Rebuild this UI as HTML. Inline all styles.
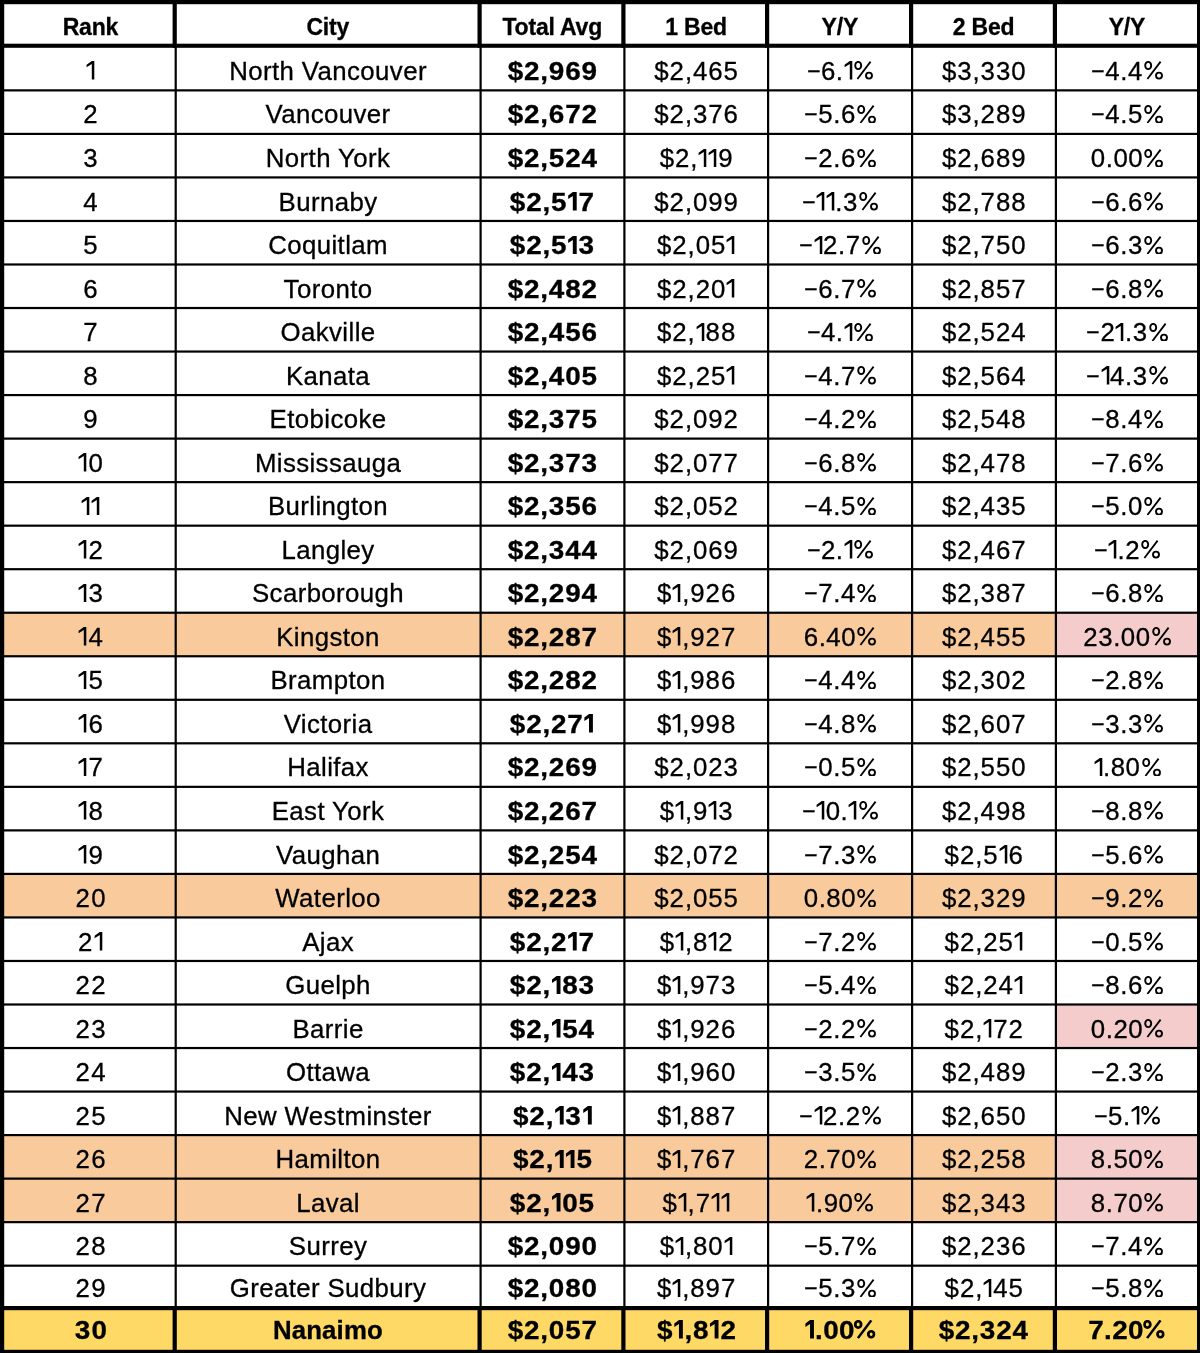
<!DOCTYPE html>
<html><head><meta charset="utf-8">
<style>
html,body{margin:0;padding:0;background:#fff;}
body{width:1200px;height:1353px;overflow:hidden;position:relative;filter:blur(0.35px);font-family:"Liberation Sans",sans-serif;}
svg{position:absolute;left:0;top:0;}
.t{position:absolute;width:300px;height:0;line-height:0;text-align:center;white-space:nowrap;color:#000;-webkit-text-stroke:0.3px #000;}
.n{font-weight:400;}
.b{font-weight:700;}
.sx{display:inline-block;transform-origin:50% 0;}
.m{display:inline-block;transform:scaleX(0.9);transform-origin:0 0;margin-right:-1.5px;}
.p{display:inline-block;transform:scaleX(0.87);transform-origin:0 0;margin-right:-2.9px;}
svg.o{position:static;vertical-align:baseline;margin-top:-30px;}
</style></head><body>
<svg width="1200" height="1353" viewBox="0 0 1200 1353" shape-rendering="geometricPrecision"><rect x="0" y="612.78" width="1200" height="43.33" fill="#f9cb9c"/><rect x="1056.00" y="612.78" width="144.00" height="43.33" fill="#f4cccc"/><rect x="0" y="873.96" width="1200" height="43.33" fill="#f9cb9c"/><rect x="1056.00" y="1004.55" width="144.00" height="43.33" fill="#f4cccc"/><rect x="0" y="1135.14" width="1200" height="43.33" fill="#f9cb9c"/><rect x="1056.00" y="1135.14" width="144.00" height="43.33" fill="#f4cccc"/><rect x="0" y="1178.67" width="1200" height="43.33" fill="#f9cb9c"/><rect x="1056.00" y="1178.67" width="144.00" height="43.33" fill="#f4cccc"/><rect x="0" y="1309.20" width="1200" height="41.60" fill="#ffd966"/></svg>
<div class="t b" style="left:-59.60px;top:26.93px;font-size:23px;letter-spacing:-0.2px">Rank</div><div class="t b" style="left:177.75px;top:26.93px;font-size:23px;letter-spacing:-0.2px">City</div><div class="t b" style="left:402.25px;top:26.93px;font-size:23px;letter-spacing:-0.2px">Total Avg</div><div class="t b" style="left:546.05px;top:26.93px;font-size:23px;letter-spacing:-0.2px">1 Bed</div><div class="t b" style="left:689.85px;top:26.93px;font-size:23px;letter-spacing:-0.2px">Y/Y</div><div class="t b" style="left:833.65px;top:26.93px;font-size:23px;letter-spacing:-0.2px">2 Bed</div><div class="t b" style="left:976.90px;top:26.93px;font-size:23px;letter-spacing:-0.2px">Y/Y</div><div class="t n" style="left:-58.72px;top:70.96px;font-size:25.8px;letter-spacing:1.55px"><svg class="o" width="9.5" height="18.5" viewBox="0 0 9.5 18" preserveAspectRatio="none" style="margin-right:1.00px"><path d="M5.8 0H8.3V18H5.8V2.9L0.6 6.1V3.7Z"/></svg></div><div class="t n" style="left:178.05px;top:70.96px;font-size:25.8px;letter-spacing:0.4px">North Vancouver</div><div class="t b" style="left:402.73px;top:70.96px;font-size:25.8px;letter-spacing:0.75px"><span class="sx" style="transform:scaleX(1.08)">$2,969</span></div><div class="t n" style="left:546.62px;top:70.96px;font-size:25.8px;letter-spacing:0.95px">$2,465</div><div class="t n" style="left:690.23px;top:70.96px;font-size:25.8px;letter-spacing:0.55px"><span class="m">−</span>6.<svg class="o" width="9.5" height="18.5" viewBox="0 0 9.5 18" preserveAspectRatio="none" style="margin-right:0.00px"><path d="M5.8 0H8.3V18H5.8V2.9L0.6 6.1V3.7Z"/></svg><svg class="o" width="20.5" height="18.5" viewBox="0 0 20.5 18.5" fill="none" stroke="#000"><ellipse cx="5.2" cy="4.5" rx="3.0" ry="3.6" stroke-width="1.9"/><ellipse cx="16" cy="14.6" rx="3.0" ry="3.0" stroke-width="1.9"/><path d="M17.6 0.6L4.4 18" stroke-width="1.8"/></svg></div><div class="t n" style="left:834.23px;top:70.96px;font-size:25.8px;letter-spacing:0.95px">$3,330</div><div class="t n" style="left:977.28px;top:70.96px;font-size:25.8px;letter-spacing:0.55px"><span class="m">−</span>4.4<svg class="o" width="20.5" height="18.5" viewBox="0 0 20.5 18.5" fill="none" stroke="#000"><ellipse cx="5.2" cy="4.5" rx="3.0" ry="3.6" stroke-width="1.9"/><ellipse cx="16" cy="14.6" rx="3.0" ry="3.0" stroke-width="1.9"/><path d="M17.6 0.6L4.4 18" stroke-width="1.8"/></svg></div><div class="t n" style="left:-58.72px;top:114.49px;font-size:25.8px;letter-spacing:1.55px">2</div><div class="t n" style="left:178.05px;top:114.49px;font-size:25.8px;letter-spacing:0.4px">Vancouver</div><div class="t b" style="left:402.73px;top:114.49px;font-size:25.8px;letter-spacing:0.75px"><span class="sx" style="transform:scaleX(1.08)">$2,672</span></div><div class="t n" style="left:546.62px;top:114.49px;font-size:25.8px;letter-spacing:0.95px">$2,376</div><div class="t n" style="left:690.23px;top:114.49px;font-size:25.8px;letter-spacing:0.55px"><span class="m">−</span>5.6<svg class="o" width="20.5" height="18.5" viewBox="0 0 20.5 18.5" fill="none" stroke="#000"><ellipse cx="5.2" cy="4.5" rx="3.0" ry="3.6" stroke-width="1.9"/><ellipse cx="16" cy="14.6" rx="3.0" ry="3.0" stroke-width="1.9"/><path d="M17.6 0.6L4.4 18" stroke-width="1.8"/></svg></div><div class="t n" style="left:834.23px;top:114.49px;font-size:25.8px;letter-spacing:0.95px">$3,289</div><div class="t n" style="left:977.28px;top:114.49px;font-size:25.8px;letter-spacing:0.55px"><span class="m">−</span>4.5<svg class="o" width="20.5" height="18.5" viewBox="0 0 20.5 18.5" fill="none" stroke="#000"><ellipse cx="5.2" cy="4.5" rx="3.0" ry="3.6" stroke-width="1.9"/><ellipse cx="16" cy="14.6" rx="3.0" ry="3.0" stroke-width="1.9"/><path d="M17.6 0.6L4.4 18" stroke-width="1.8"/></svg></div><div class="t n" style="left:-58.72px;top:158.02px;font-size:25.8px;letter-spacing:1.55px">3</div><div class="t n" style="left:178.05px;top:158.02px;font-size:25.8px;letter-spacing:0.4px">North York</div><div class="t b" style="left:402.73px;top:158.02px;font-size:25.8px;letter-spacing:0.75px"><span class="sx" style="transform:scaleX(1.08)">$2,524</span></div><div class="t n" style="left:546.62px;top:158.02px;font-size:25.8px;letter-spacing:0.95px">$2,<svg class="o" width="9.5" height="18.5" viewBox="0 0 9.5 18" preserveAspectRatio="none" style="margin-right:0.40px"><path d="M5.8 0H8.3V18H5.8V2.9L0.6 6.1V3.7Z"/></svg><svg class="o" width="9.5" height="18.5" viewBox="0 0 9.5 18" preserveAspectRatio="none" style="margin-right:0.40px"><path d="M5.8 0H8.3V18H5.8V2.9L0.6 6.1V3.7Z"/></svg>9</div><div class="t n" style="left:690.23px;top:158.02px;font-size:25.8px;letter-spacing:0.55px"><span class="m">−</span>2.6<svg class="o" width="20.5" height="18.5" viewBox="0 0 20.5 18.5" fill="none" stroke="#000"><ellipse cx="5.2" cy="4.5" rx="3.0" ry="3.6" stroke-width="1.9"/><ellipse cx="16" cy="14.6" rx="3.0" ry="3.0" stroke-width="1.9"/><path d="M17.6 0.6L4.4 18" stroke-width="1.8"/></svg></div><div class="t n" style="left:834.23px;top:158.02px;font-size:25.8px;letter-spacing:0.95px">$2,689</div><div class="t n" style="left:977.28px;top:158.02px;font-size:25.8px;letter-spacing:0.55px">0.00<svg class="o" width="20.5" height="18.5" viewBox="0 0 20.5 18.5" fill="none" stroke="#000"><ellipse cx="5.2" cy="4.5" rx="3.0" ry="3.6" stroke-width="1.9"/><ellipse cx="16" cy="14.6" rx="3.0" ry="3.0" stroke-width="1.9"/><path d="M17.6 0.6L4.4 18" stroke-width="1.8"/></svg></div><div class="t n" style="left:-58.72px;top:201.55px;font-size:25.8px;letter-spacing:1.55px">4</div><div class="t n" style="left:178.05px;top:201.55px;font-size:25.8px;letter-spacing:0.4px">Burnaby</div><div class="t b" style="left:402.73px;top:201.55px;font-size:25.8px;letter-spacing:0.75px"><span class="sx" style="transform:scaleX(1.08)">$2,5<svg class="o" width="10.9" height="18.5" viewBox="0 0 10.9 18" preserveAspectRatio="none" style="margin-right:-0.60px"><path d="M5.3 0H8.9V18H5.3V4L1.0 6.7V3.3Z"/></svg>7</span></div><div class="t n" style="left:546.62px;top:201.55px;font-size:25.8px;letter-spacing:0.95px">$2,099</div><div class="t n" style="left:690.23px;top:201.55px;font-size:25.8px;letter-spacing:0.55px"><span class="m">−</span><svg class="o" width="9.5" height="18.5" viewBox="0 0 9.5 18" preserveAspectRatio="none" style="margin-right:0.00px"><path d="M5.8 0H8.3V18H5.8V2.9L0.6 6.1V3.7Z"/></svg><svg class="o" width="9.5" height="18.5" viewBox="0 0 9.5 18" preserveAspectRatio="none" style="margin-right:0.00px"><path d="M5.8 0H8.3V18H5.8V2.9L0.6 6.1V3.7Z"/></svg>.3<svg class="o" width="20.5" height="18.5" viewBox="0 0 20.5 18.5" fill="none" stroke="#000"><ellipse cx="5.2" cy="4.5" rx="3.0" ry="3.6" stroke-width="1.9"/><ellipse cx="16" cy="14.6" rx="3.0" ry="3.0" stroke-width="1.9"/><path d="M17.6 0.6L4.4 18" stroke-width="1.8"/></svg></div><div class="t n" style="left:834.23px;top:201.55px;font-size:25.8px;letter-spacing:0.95px">$2,788</div><div class="t n" style="left:977.28px;top:201.55px;font-size:25.8px;letter-spacing:0.55px"><span class="m">−</span>6.6<svg class="o" width="20.5" height="18.5" viewBox="0 0 20.5 18.5" fill="none" stroke="#000"><ellipse cx="5.2" cy="4.5" rx="3.0" ry="3.6" stroke-width="1.9"/><ellipse cx="16" cy="14.6" rx="3.0" ry="3.0" stroke-width="1.9"/><path d="M17.6 0.6L4.4 18" stroke-width="1.8"/></svg></div><div class="t n" style="left:-58.72px;top:245.08px;font-size:25.8px;letter-spacing:1.55px">5</div><div class="t n" style="left:178.05px;top:245.08px;font-size:25.8px;letter-spacing:0.4px">Coquitlam</div><div class="t b" style="left:402.73px;top:245.08px;font-size:25.8px;letter-spacing:0.75px"><span class="sx" style="transform:scaleX(1.08)">$2,5<svg class="o" width="10.9" height="18.5" viewBox="0 0 10.9 18" preserveAspectRatio="none" style="margin-right:-0.60px"><path d="M5.3 0H8.9V18H5.3V4L1.0 6.7V3.3Z"/></svg>3</span></div><div class="t n" style="left:546.62px;top:245.08px;font-size:25.8px;letter-spacing:0.95px">$2,05<svg class="o" width="9.5" height="18.5" viewBox="0 0 9.5 18" preserveAspectRatio="none" style="margin-right:0.40px"><path d="M5.8 0H8.3V18H5.8V2.9L0.6 6.1V3.7Z"/></svg></div><div class="t n" style="left:690.23px;top:245.08px;font-size:25.8px;letter-spacing:0.55px"><span class="m">−</span><svg class="o" width="9.5" height="18.5" viewBox="0 0 9.5 18" preserveAspectRatio="none" style="margin-right:0.00px"><path d="M5.8 0H8.3V18H5.8V2.9L0.6 6.1V3.7Z"/></svg>2.7<svg class="o" width="20.5" height="18.5" viewBox="0 0 20.5 18.5" fill="none" stroke="#000"><ellipse cx="5.2" cy="4.5" rx="3.0" ry="3.6" stroke-width="1.9"/><ellipse cx="16" cy="14.6" rx="3.0" ry="3.0" stroke-width="1.9"/><path d="M17.6 0.6L4.4 18" stroke-width="1.8"/></svg></div><div class="t n" style="left:834.23px;top:245.08px;font-size:25.8px;letter-spacing:0.95px">$2,750</div><div class="t n" style="left:977.28px;top:245.08px;font-size:25.8px;letter-spacing:0.55px"><span class="m">−</span>6.3<svg class="o" width="20.5" height="18.5" viewBox="0 0 20.5 18.5" fill="none" stroke="#000"><ellipse cx="5.2" cy="4.5" rx="3.0" ry="3.6" stroke-width="1.9"/><ellipse cx="16" cy="14.6" rx="3.0" ry="3.0" stroke-width="1.9"/><path d="M17.6 0.6L4.4 18" stroke-width="1.8"/></svg></div><div class="t n" style="left:-58.72px;top:288.61px;font-size:25.8px;letter-spacing:1.55px">6</div><div class="t n" style="left:178.05px;top:288.61px;font-size:25.8px;letter-spacing:0.4px">Toronto</div><div class="t b" style="left:402.73px;top:288.61px;font-size:25.8px;letter-spacing:0.75px"><span class="sx" style="transform:scaleX(1.08)">$2,482</span></div><div class="t n" style="left:546.62px;top:288.61px;font-size:25.8px;letter-spacing:0.95px">$2,20<svg class="o" width="9.5" height="18.5" viewBox="0 0 9.5 18" preserveAspectRatio="none" style="margin-right:0.40px"><path d="M5.8 0H8.3V18H5.8V2.9L0.6 6.1V3.7Z"/></svg></div><div class="t n" style="left:690.23px;top:288.61px;font-size:25.8px;letter-spacing:0.55px"><span class="m">−</span>6.7<svg class="o" width="20.5" height="18.5" viewBox="0 0 20.5 18.5" fill="none" stroke="#000"><ellipse cx="5.2" cy="4.5" rx="3.0" ry="3.6" stroke-width="1.9"/><ellipse cx="16" cy="14.6" rx="3.0" ry="3.0" stroke-width="1.9"/><path d="M17.6 0.6L4.4 18" stroke-width="1.8"/></svg></div><div class="t n" style="left:834.23px;top:288.61px;font-size:25.8px;letter-spacing:0.95px">$2,857</div><div class="t n" style="left:977.28px;top:288.61px;font-size:25.8px;letter-spacing:0.55px"><span class="m">−</span>6.8<svg class="o" width="20.5" height="18.5" viewBox="0 0 20.5 18.5" fill="none" stroke="#000"><ellipse cx="5.2" cy="4.5" rx="3.0" ry="3.6" stroke-width="1.9"/><ellipse cx="16" cy="14.6" rx="3.0" ry="3.0" stroke-width="1.9"/><path d="M17.6 0.6L4.4 18" stroke-width="1.8"/></svg></div><div class="t n" style="left:-58.72px;top:332.14px;font-size:25.8px;letter-spacing:1.55px">7</div><div class="t n" style="left:178.05px;top:332.14px;font-size:25.8px;letter-spacing:0.4px">Oakville</div><div class="t b" style="left:402.73px;top:332.14px;font-size:25.8px;letter-spacing:0.75px"><span class="sx" style="transform:scaleX(1.08)">$2,456</span></div><div class="t n" style="left:546.62px;top:332.14px;font-size:25.8px;letter-spacing:0.95px">$2,<svg class="o" width="9.5" height="18.5" viewBox="0 0 9.5 18" preserveAspectRatio="none" style="margin-right:0.40px"><path d="M5.8 0H8.3V18H5.8V2.9L0.6 6.1V3.7Z"/></svg>88</div><div class="t n" style="left:690.23px;top:332.14px;font-size:25.8px;letter-spacing:0.55px"><span class="m">−</span>4.<svg class="o" width="9.5" height="18.5" viewBox="0 0 9.5 18" preserveAspectRatio="none" style="margin-right:0.00px"><path d="M5.8 0H8.3V18H5.8V2.9L0.6 6.1V3.7Z"/></svg><svg class="o" width="20.5" height="18.5" viewBox="0 0 20.5 18.5" fill="none" stroke="#000"><ellipse cx="5.2" cy="4.5" rx="3.0" ry="3.6" stroke-width="1.9"/><ellipse cx="16" cy="14.6" rx="3.0" ry="3.0" stroke-width="1.9"/><path d="M17.6 0.6L4.4 18" stroke-width="1.8"/></svg></div><div class="t n" style="left:834.23px;top:332.14px;font-size:25.8px;letter-spacing:0.95px">$2,524</div><div class="t n" style="left:977.28px;top:332.14px;font-size:25.8px;letter-spacing:0.55px"><span class="m">−</span>2<svg class="o" width="9.5" height="18.5" viewBox="0 0 9.5 18" preserveAspectRatio="none" style="margin-right:0.00px"><path d="M5.8 0H8.3V18H5.8V2.9L0.6 6.1V3.7Z"/></svg>.3<svg class="o" width="20.5" height="18.5" viewBox="0 0 20.5 18.5" fill="none" stroke="#000"><ellipse cx="5.2" cy="4.5" rx="3.0" ry="3.6" stroke-width="1.9"/><ellipse cx="16" cy="14.6" rx="3.0" ry="3.0" stroke-width="1.9"/><path d="M17.6 0.6L4.4 18" stroke-width="1.8"/></svg></div><div class="t n" style="left:-58.72px;top:375.67px;font-size:25.8px;letter-spacing:1.55px">8</div><div class="t n" style="left:178.05px;top:375.67px;font-size:25.8px;letter-spacing:0.4px">Kanata</div><div class="t b" style="left:402.73px;top:375.67px;font-size:25.8px;letter-spacing:0.75px"><span class="sx" style="transform:scaleX(1.08)">$2,405</span></div><div class="t n" style="left:546.62px;top:375.67px;font-size:25.8px;letter-spacing:0.95px">$2,25<svg class="o" width="9.5" height="18.5" viewBox="0 0 9.5 18" preserveAspectRatio="none" style="margin-right:0.40px"><path d="M5.8 0H8.3V18H5.8V2.9L0.6 6.1V3.7Z"/></svg></div><div class="t n" style="left:690.23px;top:375.67px;font-size:25.8px;letter-spacing:0.55px"><span class="m">−</span>4.7<svg class="o" width="20.5" height="18.5" viewBox="0 0 20.5 18.5" fill="none" stroke="#000"><ellipse cx="5.2" cy="4.5" rx="3.0" ry="3.6" stroke-width="1.9"/><ellipse cx="16" cy="14.6" rx="3.0" ry="3.0" stroke-width="1.9"/><path d="M17.6 0.6L4.4 18" stroke-width="1.8"/></svg></div><div class="t n" style="left:834.23px;top:375.67px;font-size:25.8px;letter-spacing:0.95px">$2,564</div><div class="t n" style="left:977.28px;top:375.67px;font-size:25.8px;letter-spacing:0.55px"><span class="m">−</span><svg class="o" width="9.5" height="18.5" viewBox="0 0 9.5 18" preserveAspectRatio="none" style="margin-right:0.00px"><path d="M5.8 0H8.3V18H5.8V2.9L0.6 6.1V3.7Z"/></svg>4.3<svg class="o" width="20.5" height="18.5" viewBox="0 0 20.5 18.5" fill="none" stroke="#000"><ellipse cx="5.2" cy="4.5" rx="3.0" ry="3.6" stroke-width="1.9"/><ellipse cx="16" cy="14.6" rx="3.0" ry="3.0" stroke-width="1.9"/><path d="M17.6 0.6L4.4 18" stroke-width="1.8"/></svg></div><div class="t n" style="left:-58.72px;top:419.20px;font-size:25.8px;letter-spacing:1.55px">9</div><div class="t n" style="left:178.05px;top:419.20px;font-size:25.8px;letter-spacing:0.4px">Etobicoke</div><div class="t b" style="left:402.73px;top:419.20px;font-size:25.8px;letter-spacing:0.75px"><span class="sx" style="transform:scaleX(1.08)">$2,375</span></div><div class="t n" style="left:546.62px;top:419.20px;font-size:25.8px;letter-spacing:0.95px">$2,092</div><div class="t n" style="left:690.23px;top:419.20px;font-size:25.8px;letter-spacing:0.55px"><span class="m">−</span>4.2<svg class="o" width="20.5" height="18.5" viewBox="0 0 20.5 18.5" fill="none" stroke="#000"><ellipse cx="5.2" cy="4.5" rx="3.0" ry="3.6" stroke-width="1.9"/><ellipse cx="16" cy="14.6" rx="3.0" ry="3.0" stroke-width="1.9"/><path d="M17.6 0.6L4.4 18" stroke-width="1.8"/></svg></div><div class="t n" style="left:834.23px;top:419.20px;font-size:25.8px;letter-spacing:0.95px">$2,548</div><div class="t n" style="left:977.28px;top:419.20px;font-size:25.8px;letter-spacing:0.55px"><span class="m">−</span>8.4<svg class="o" width="20.5" height="18.5" viewBox="0 0 20.5 18.5" fill="none" stroke="#000"><ellipse cx="5.2" cy="4.5" rx="3.0" ry="3.6" stroke-width="1.9"/><ellipse cx="16" cy="14.6" rx="3.0" ry="3.0" stroke-width="1.9"/><path d="M17.6 0.6L4.4 18" stroke-width="1.8"/></svg></div><div class="t n" style="left:-58.72px;top:462.73px;font-size:25.8px;letter-spacing:1.55px"><svg class="o" width="9.5" height="18.5" viewBox="0 0 9.5 18" preserveAspectRatio="none" style="margin-right:1.00px"><path d="M5.8 0H8.3V18H5.8V2.9L0.6 6.1V3.7Z"/></svg>0</div><div class="t n" style="left:178.05px;top:462.73px;font-size:25.8px;letter-spacing:0.4px">Mississauga</div><div class="t b" style="left:402.73px;top:462.73px;font-size:25.8px;letter-spacing:0.75px"><span class="sx" style="transform:scaleX(1.08)">$2,373</span></div><div class="t n" style="left:546.62px;top:462.73px;font-size:25.8px;letter-spacing:0.95px">$2,077</div><div class="t n" style="left:690.23px;top:462.73px;font-size:25.8px;letter-spacing:0.55px"><span class="m">−</span>6.8<svg class="o" width="20.5" height="18.5" viewBox="0 0 20.5 18.5" fill="none" stroke="#000"><ellipse cx="5.2" cy="4.5" rx="3.0" ry="3.6" stroke-width="1.9"/><ellipse cx="16" cy="14.6" rx="3.0" ry="3.0" stroke-width="1.9"/><path d="M17.6 0.6L4.4 18" stroke-width="1.8"/></svg></div><div class="t n" style="left:834.23px;top:462.73px;font-size:25.8px;letter-spacing:0.95px">$2,478</div><div class="t n" style="left:977.28px;top:462.73px;font-size:25.8px;letter-spacing:0.55px"><span class="m">−</span>7.6<svg class="o" width="20.5" height="18.5" viewBox="0 0 20.5 18.5" fill="none" stroke="#000"><ellipse cx="5.2" cy="4.5" rx="3.0" ry="3.6" stroke-width="1.9"/><ellipse cx="16" cy="14.6" rx="3.0" ry="3.0" stroke-width="1.9"/><path d="M17.6 0.6L4.4 18" stroke-width="1.8"/></svg></div><div class="t n" style="left:-58.72px;top:506.26px;font-size:25.8px;letter-spacing:1.55px"><svg class="o" width="9.5" height="18.5" viewBox="0 0 9.5 18" preserveAspectRatio="none" style="margin-right:1.00px"><path d="M5.8 0H8.3V18H5.8V2.9L0.6 6.1V3.7Z"/></svg><svg class="o" width="9.5" height="18.5" viewBox="0 0 9.5 18" preserveAspectRatio="none" style="margin-right:1.00px"><path d="M5.8 0H8.3V18H5.8V2.9L0.6 6.1V3.7Z"/></svg></div><div class="t n" style="left:178.05px;top:506.26px;font-size:25.8px;letter-spacing:0.4px">Burlington</div><div class="t b" style="left:402.73px;top:506.26px;font-size:25.8px;letter-spacing:0.75px"><span class="sx" style="transform:scaleX(1.08)">$2,356</span></div><div class="t n" style="left:546.62px;top:506.26px;font-size:25.8px;letter-spacing:0.95px">$2,052</div><div class="t n" style="left:690.23px;top:506.26px;font-size:25.8px;letter-spacing:0.55px"><span class="m">−</span>4.5<svg class="o" width="20.5" height="18.5" viewBox="0 0 20.5 18.5" fill="none" stroke="#000"><ellipse cx="5.2" cy="4.5" rx="3.0" ry="3.6" stroke-width="1.9"/><ellipse cx="16" cy="14.6" rx="3.0" ry="3.0" stroke-width="1.9"/><path d="M17.6 0.6L4.4 18" stroke-width="1.8"/></svg></div><div class="t n" style="left:834.23px;top:506.26px;font-size:25.8px;letter-spacing:0.95px">$2,435</div><div class="t n" style="left:977.28px;top:506.26px;font-size:25.8px;letter-spacing:0.55px"><span class="m">−</span>5.0<svg class="o" width="20.5" height="18.5" viewBox="0 0 20.5 18.5" fill="none" stroke="#000"><ellipse cx="5.2" cy="4.5" rx="3.0" ry="3.6" stroke-width="1.9"/><ellipse cx="16" cy="14.6" rx="3.0" ry="3.0" stroke-width="1.9"/><path d="M17.6 0.6L4.4 18" stroke-width="1.8"/></svg></div><div class="t n" style="left:-58.72px;top:549.79px;font-size:25.8px;letter-spacing:1.55px"><svg class="o" width="9.5" height="18.5" viewBox="0 0 9.5 18" preserveAspectRatio="none" style="margin-right:1.00px"><path d="M5.8 0H8.3V18H5.8V2.9L0.6 6.1V3.7Z"/></svg>2</div><div class="t n" style="left:178.05px;top:549.79px;font-size:25.8px;letter-spacing:0.4px">Langley</div><div class="t b" style="left:402.73px;top:549.79px;font-size:25.8px;letter-spacing:0.75px"><span class="sx" style="transform:scaleX(1.08)">$2,344</span></div><div class="t n" style="left:546.62px;top:549.79px;font-size:25.8px;letter-spacing:0.95px">$2,069</div><div class="t n" style="left:690.23px;top:549.79px;font-size:25.8px;letter-spacing:0.55px"><span class="m">−</span>2.<svg class="o" width="9.5" height="18.5" viewBox="0 0 9.5 18" preserveAspectRatio="none" style="margin-right:0.00px"><path d="M5.8 0H8.3V18H5.8V2.9L0.6 6.1V3.7Z"/></svg><svg class="o" width="20.5" height="18.5" viewBox="0 0 20.5 18.5" fill="none" stroke="#000"><ellipse cx="5.2" cy="4.5" rx="3.0" ry="3.6" stroke-width="1.9"/><ellipse cx="16" cy="14.6" rx="3.0" ry="3.0" stroke-width="1.9"/><path d="M17.6 0.6L4.4 18" stroke-width="1.8"/></svg></div><div class="t n" style="left:834.23px;top:549.79px;font-size:25.8px;letter-spacing:0.95px">$2,467</div><div class="t n" style="left:977.28px;top:549.79px;font-size:25.8px;letter-spacing:0.55px"><span class="m">−</span><svg class="o" width="9.5" height="18.5" viewBox="0 0 9.5 18" preserveAspectRatio="none" style="margin-right:0.00px"><path d="M5.8 0H8.3V18H5.8V2.9L0.6 6.1V3.7Z"/></svg>.2<svg class="o" width="20.5" height="18.5" viewBox="0 0 20.5 18.5" fill="none" stroke="#000"><ellipse cx="5.2" cy="4.5" rx="3.0" ry="3.6" stroke-width="1.9"/><ellipse cx="16" cy="14.6" rx="3.0" ry="3.0" stroke-width="1.9"/><path d="M17.6 0.6L4.4 18" stroke-width="1.8"/></svg></div><div class="t n" style="left:-58.72px;top:593.32px;font-size:25.8px;letter-spacing:1.55px"><svg class="o" width="9.5" height="18.5" viewBox="0 0 9.5 18" preserveAspectRatio="none" style="margin-right:1.00px"><path d="M5.8 0H8.3V18H5.8V2.9L0.6 6.1V3.7Z"/></svg>3</div><div class="t n" style="left:178.05px;top:593.32px;font-size:25.8px;letter-spacing:0.4px">Scarborough</div><div class="t b" style="left:402.73px;top:593.32px;font-size:25.8px;letter-spacing:0.75px"><span class="sx" style="transform:scaleX(1.08)">$2,294</span></div><div class="t n" style="left:546.62px;top:593.32px;font-size:25.8px;letter-spacing:0.95px">$<svg class="o" width="9.5" height="18.5" viewBox="0 0 9.5 18" preserveAspectRatio="none" style="margin-right:0.40px"><path d="M5.8 0H8.3V18H5.8V2.9L0.6 6.1V3.7Z"/></svg>,926</div><div class="t n" style="left:690.23px;top:593.32px;font-size:25.8px;letter-spacing:0.55px"><span class="m">−</span>7.4<svg class="o" width="20.5" height="18.5" viewBox="0 0 20.5 18.5" fill="none" stroke="#000"><ellipse cx="5.2" cy="4.5" rx="3.0" ry="3.6" stroke-width="1.9"/><ellipse cx="16" cy="14.6" rx="3.0" ry="3.0" stroke-width="1.9"/><path d="M17.6 0.6L4.4 18" stroke-width="1.8"/></svg></div><div class="t n" style="left:834.23px;top:593.32px;font-size:25.8px;letter-spacing:0.95px">$2,387</div><div class="t n" style="left:977.28px;top:593.32px;font-size:25.8px;letter-spacing:0.55px"><span class="m">−</span>6.8<svg class="o" width="20.5" height="18.5" viewBox="0 0 20.5 18.5" fill="none" stroke="#000"><ellipse cx="5.2" cy="4.5" rx="3.0" ry="3.6" stroke-width="1.9"/><ellipse cx="16" cy="14.6" rx="3.0" ry="3.0" stroke-width="1.9"/><path d="M17.6 0.6L4.4 18" stroke-width="1.8"/></svg></div><div class="t n" style="left:-58.72px;top:636.85px;font-size:25.8px;letter-spacing:1.55px"><svg class="o" width="9.5" height="18.5" viewBox="0 0 9.5 18" preserveAspectRatio="none" style="margin-right:1.00px"><path d="M5.8 0H8.3V18H5.8V2.9L0.6 6.1V3.7Z"/></svg>4</div><div class="t n" style="left:178.05px;top:636.85px;font-size:25.8px;letter-spacing:0.4px">Kingston</div><div class="t b" style="left:402.73px;top:636.85px;font-size:25.8px;letter-spacing:0.75px"><span class="sx" style="transform:scaleX(1.08)">$2,287</span></div><div class="t n" style="left:546.62px;top:636.85px;font-size:25.8px;letter-spacing:0.95px">$<svg class="o" width="9.5" height="18.5" viewBox="0 0 9.5 18" preserveAspectRatio="none" style="margin-right:0.40px"><path d="M5.8 0H8.3V18H5.8V2.9L0.6 6.1V3.7Z"/></svg>,927</div><div class="t n" style="left:690.23px;top:636.85px;font-size:25.8px;letter-spacing:0.55px">6.40<svg class="o" width="20.5" height="18.5" viewBox="0 0 20.5 18.5" fill="none" stroke="#000"><ellipse cx="5.2" cy="4.5" rx="3.0" ry="3.6" stroke-width="1.9"/><ellipse cx="16" cy="14.6" rx="3.0" ry="3.0" stroke-width="1.9"/><path d="M17.6 0.6L4.4 18" stroke-width="1.8"/></svg></div><div class="t n" style="left:834.23px;top:636.85px;font-size:25.8px;letter-spacing:0.95px">$2,455</div><div class="t n" style="left:977.28px;top:636.85px;font-size:25.8px;letter-spacing:0.55px">23.00<svg class="o" width="20.5" height="18.5" viewBox="0 0 20.5 18.5" fill="none" stroke="#000"><ellipse cx="5.2" cy="4.5" rx="3.0" ry="3.6" stroke-width="1.9"/><ellipse cx="16" cy="14.6" rx="3.0" ry="3.0" stroke-width="1.9"/><path d="M17.6 0.6L4.4 18" stroke-width="1.8"/></svg></div><div class="t n" style="left:-58.72px;top:680.38px;font-size:25.8px;letter-spacing:1.55px"><svg class="o" width="9.5" height="18.5" viewBox="0 0 9.5 18" preserveAspectRatio="none" style="margin-right:1.00px"><path d="M5.8 0H8.3V18H5.8V2.9L0.6 6.1V3.7Z"/></svg>5</div><div class="t n" style="left:178.05px;top:680.38px;font-size:25.8px;letter-spacing:0.4px">Brampton</div><div class="t b" style="left:402.73px;top:680.38px;font-size:25.8px;letter-spacing:0.75px"><span class="sx" style="transform:scaleX(1.08)">$2,282</span></div><div class="t n" style="left:546.62px;top:680.38px;font-size:25.8px;letter-spacing:0.95px">$<svg class="o" width="9.5" height="18.5" viewBox="0 0 9.5 18" preserveAspectRatio="none" style="margin-right:0.40px"><path d="M5.8 0H8.3V18H5.8V2.9L0.6 6.1V3.7Z"/></svg>,986</div><div class="t n" style="left:690.23px;top:680.38px;font-size:25.8px;letter-spacing:0.55px"><span class="m">−</span>4.4<svg class="o" width="20.5" height="18.5" viewBox="0 0 20.5 18.5" fill="none" stroke="#000"><ellipse cx="5.2" cy="4.5" rx="3.0" ry="3.6" stroke-width="1.9"/><ellipse cx="16" cy="14.6" rx="3.0" ry="3.0" stroke-width="1.9"/><path d="M17.6 0.6L4.4 18" stroke-width="1.8"/></svg></div><div class="t n" style="left:834.23px;top:680.38px;font-size:25.8px;letter-spacing:0.95px">$2,302</div><div class="t n" style="left:977.28px;top:680.38px;font-size:25.8px;letter-spacing:0.55px"><span class="m">−</span>2.8<svg class="o" width="20.5" height="18.5" viewBox="0 0 20.5 18.5" fill="none" stroke="#000"><ellipse cx="5.2" cy="4.5" rx="3.0" ry="3.6" stroke-width="1.9"/><ellipse cx="16" cy="14.6" rx="3.0" ry="3.0" stroke-width="1.9"/><path d="M17.6 0.6L4.4 18" stroke-width="1.8"/></svg></div><div class="t n" style="left:-58.72px;top:723.91px;font-size:25.8px;letter-spacing:1.55px"><svg class="o" width="9.5" height="18.5" viewBox="0 0 9.5 18" preserveAspectRatio="none" style="margin-right:1.00px"><path d="M5.8 0H8.3V18H5.8V2.9L0.6 6.1V3.7Z"/></svg>6</div><div class="t n" style="left:178.05px;top:723.91px;font-size:25.8px;letter-spacing:0.4px">Victoria</div><div class="t b" style="left:402.73px;top:723.91px;font-size:25.8px;letter-spacing:0.75px"><span class="sx" style="transform:scaleX(1.08)">$2,27<svg class="o" width="10.9" height="18.5" viewBox="0 0 10.9 18" preserveAspectRatio="none" style="margin-right:-0.60px"><path d="M5.3 0H8.9V18H5.3V4L1.0 6.7V3.3Z"/></svg></span></div><div class="t n" style="left:546.62px;top:723.91px;font-size:25.8px;letter-spacing:0.95px">$<svg class="o" width="9.5" height="18.5" viewBox="0 0 9.5 18" preserveAspectRatio="none" style="margin-right:0.40px"><path d="M5.8 0H8.3V18H5.8V2.9L0.6 6.1V3.7Z"/></svg>,998</div><div class="t n" style="left:690.23px;top:723.91px;font-size:25.8px;letter-spacing:0.55px"><span class="m">−</span>4.8<svg class="o" width="20.5" height="18.5" viewBox="0 0 20.5 18.5" fill="none" stroke="#000"><ellipse cx="5.2" cy="4.5" rx="3.0" ry="3.6" stroke-width="1.9"/><ellipse cx="16" cy="14.6" rx="3.0" ry="3.0" stroke-width="1.9"/><path d="M17.6 0.6L4.4 18" stroke-width="1.8"/></svg></div><div class="t n" style="left:834.23px;top:723.91px;font-size:25.8px;letter-spacing:0.95px">$2,607</div><div class="t n" style="left:977.28px;top:723.91px;font-size:25.8px;letter-spacing:0.55px"><span class="m">−</span>3.3<svg class="o" width="20.5" height="18.5" viewBox="0 0 20.5 18.5" fill="none" stroke="#000"><ellipse cx="5.2" cy="4.5" rx="3.0" ry="3.6" stroke-width="1.9"/><ellipse cx="16" cy="14.6" rx="3.0" ry="3.0" stroke-width="1.9"/><path d="M17.6 0.6L4.4 18" stroke-width="1.8"/></svg></div><div class="t n" style="left:-58.72px;top:767.44px;font-size:25.8px;letter-spacing:1.55px"><svg class="o" width="9.5" height="18.5" viewBox="0 0 9.5 18" preserveAspectRatio="none" style="margin-right:1.00px"><path d="M5.8 0H8.3V18H5.8V2.9L0.6 6.1V3.7Z"/></svg>7</div><div class="t n" style="left:178.05px;top:767.44px;font-size:25.8px;letter-spacing:0.4px">Halifax</div><div class="t b" style="left:402.73px;top:767.44px;font-size:25.8px;letter-spacing:0.75px"><span class="sx" style="transform:scaleX(1.08)">$2,269</span></div><div class="t n" style="left:546.62px;top:767.44px;font-size:25.8px;letter-spacing:0.95px">$2,023</div><div class="t n" style="left:690.23px;top:767.44px;font-size:25.8px;letter-spacing:0.55px"><span class="m">−</span>0.5<svg class="o" width="20.5" height="18.5" viewBox="0 0 20.5 18.5" fill="none" stroke="#000"><ellipse cx="5.2" cy="4.5" rx="3.0" ry="3.6" stroke-width="1.9"/><ellipse cx="16" cy="14.6" rx="3.0" ry="3.0" stroke-width="1.9"/><path d="M17.6 0.6L4.4 18" stroke-width="1.8"/></svg></div><div class="t n" style="left:834.23px;top:767.44px;font-size:25.8px;letter-spacing:0.95px">$2,550</div><div class="t n" style="left:977.28px;top:767.44px;font-size:25.8px;letter-spacing:0.55px"><svg class="o" width="9.5" height="18.5" viewBox="0 0 9.5 18" preserveAspectRatio="none" style="margin-right:0.00px"><path d="M5.8 0H8.3V18H5.8V2.9L0.6 6.1V3.7Z"/></svg>.80<svg class="o" width="20.5" height="18.5" viewBox="0 0 20.5 18.5" fill="none" stroke="#000"><ellipse cx="5.2" cy="4.5" rx="3.0" ry="3.6" stroke-width="1.9"/><ellipse cx="16" cy="14.6" rx="3.0" ry="3.0" stroke-width="1.9"/><path d="M17.6 0.6L4.4 18" stroke-width="1.8"/></svg></div><div class="t n" style="left:-58.72px;top:810.97px;font-size:25.8px;letter-spacing:1.55px"><svg class="o" width="9.5" height="18.5" viewBox="0 0 9.5 18" preserveAspectRatio="none" style="margin-right:1.00px"><path d="M5.8 0H8.3V18H5.8V2.9L0.6 6.1V3.7Z"/></svg>8</div><div class="t n" style="left:178.05px;top:810.97px;font-size:25.8px;letter-spacing:0.4px">East York</div><div class="t b" style="left:402.73px;top:810.97px;font-size:25.8px;letter-spacing:0.75px"><span class="sx" style="transform:scaleX(1.08)">$2,267</span></div><div class="t n" style="left:546.62px;top:810.97px;font-size:25.8px;letter-spacing:0.95px">$<svg class="o" width="9.5" height="18.5" viewBox="0 0 9.5 18" preserveAspectRatio="none" style="margin-right:0.40px"><path d="M5.8 0H8.3V18H5.8V2.9L0.6 6.1V3.7Z"/></svg>,9<svg class="o" width="9.5" height="18.5" viewBox="0 0 9.5 18" preserveAspectRatio="none" style="margin-right:0.40px"><path d="M5.8 0H8.3V18H5.8V2.9L0.6 6.1V3.7Z"/></svg>3</div><div class="t n" style="left:690.23px;top:810.97px;font-size:25.8px;letter-spacing:0.55px"><span class="m">−</span><svg class="o" width="9.5" height="18.5" viewBox="0 0 9.5 18" preserveAspectRatio="none" style="margin-right:0.00px"><path d="M5.8 0H8.3V18H5.8V2.9L0.6 6.1V3.7Z"/></svg>0.<svg class="o" width="9.5" height="18.5" viewBox="0 0 9.5 18" preserveAspectRatio="none" style="margin-right:0.00px"><path d="M5.8 0H8.3V18H5.8V2.9L0.6 6.1V3.7Z"/></svg><svg class="o" width="20.5" height="18.5" viewBox="0 0 20.5 18.5" fill="none" stroke="#000"><ellipse cx="5.2" cy="4.5" rx="3.0" ry="3.6" stroke-width="1.9"/><ellipse cx="16" cy="14.6" rx="3.0" ry="3.0" stroke-width="1.9"/><path d="M17.6 0.6L4.4 18" stroke-width="1.8"/></svg></div><div class="t n" style="left:834.23px;top:810.97px;font-size:25.8px;letter-spacing:0.95px">$2,498</div><div class="t n" style="left:977.28px;top:810.97px;font-size:25.8px;letter-spacing:0.55px"><span class="m">−</span>8.8<svg class="o" width="20.5" height="18.5" viewBox="0 0 20.5 18.5" fill="none" stroke="#000"><ellipse cx="5.2" cy="4.5" rx="3.0" ry="3.6" stroke-width="1.9"/><ellipse cx="16" cy="14.6" rx="3.0" ry="3.0" stroke-width="1.9"/><path d="M17.6 0.6L4.4 18" stroke-width="1.8"/></svg></div><div class="t n" style="left:-58.72px;top:854.50px;font-size:25.8px;letter-spacing:1.55px"><svg class="o" width="9.5" height="18.5" viewBox="0 0 9.5 18" preserveAspectRatio="none" style="margin-right:1.00px"><path d="M5.8 0H8.3V18H5.8V2.9L0.6 6.1V3.7Z"/></svg>9</div><div class="t n" style="left:178.05px;top:854.50px;font-size:25.8px;letter-spacing:0.4px">Vaughan</div><div class="t b" style="left:402.73px;top:854.50px;font-size:25.8px;letter-spacing:0.75px"><span class="sx" style="transform:scaleX(1.08)">$2,254</span></div><div class="t n" style="left:546.62px;top:854.50px;font-size:25.8px;letter-spacing:0.95px">$2,072</div><div class="t n" style="left:690.23px;top:854.50px;font-size:25.8px;letter-spacing:0.55px"><span class="m">−</span>7.3<svg class="o" width="20.5" height="18.5" viewBox="0 0 20.5 18.5" fill="none" stroke="#000"><ellipse cx="5.2" cy="4.5" rx="3.0" ry="3.6" stroke-width="1.9"/><ellipse cx="16" cy="14.6" rx="3.0" ry="3.0" stroke-width="1.9"/><path d="M17.6 0.6L4.4 18" stroke-width="1.8"/></svg></div><div class="t n" style="left:834.23px;top:854.50px;font-size:25.8px;letter-spacing:0.95px">$2,5<svg class="o" width="9.5" height="18.5" viewBox="0 0 9.5 18" preserveAspectRatio="none" style="margin-right:0.40px"><path d="M5.8 0H8.3V18H5.8V2.9L0.6 6.1V3.7Z"/></svg>6</div><div class="t n" style="left:977.28px;top:854.50px;font-size:25.8px;letter-spacing:0.55px"><span class="m">−</span>5.6<svg class="o" width="20.5" height="18.5" viewBox="0 0 20.5 18.5" fill="none" stroke="#000"><ellipse cx="5.2" cy="4.5" rx="3.0" ry="3.6" stroke-width="1.9"/><ellipse cx="16" cy="14.6" rx="3.0" ry="3.0" stroke-width="1.9"/><path d="M17.6 0.6L4.4 18" stroke-width="1.8"/></svg></div><div class="t n" style="left:-58.72px;top:898.03px;font-size:25.8px;letter-spacing:1.55px">20</div><div class="t n" style="left:178.05px;top:898.03px;font-size:25.8px;letter-spacing:0.4px">Waterloo</div><div class="t b" style="left:402.73px;top:898.03px;font-size:25.8px;letter-spacing:0.75px"><span class="sx" style="transform:scaleX(1.08)">$2,223</span></div><div class="t n" style="left:546.62px;top:898.03px;font-size:25.8px;letter-spacing:0.95px">$2,055</div><div class="t n" style="left:690.23px;top:898.03px;font-size:25.8px;letter-spacing:0.55px">0.80<svg class="o" width="20.5" height="18.5" viewBox="0 0 20.5 18.5" fill="none" stroke="#000"><ellipse cx="5.2" cy="4.5" rx="3.0" ry="3.6" stroke-width="1.9"/><ellipse cx="16" cy="14.6" rx="3.0" ry="3.0" stroke-width="1.9"/><path d="M17.6 0.6L4.4 18" stroke-width="1.8"/></svg></div><div class="t n" style="left:834.23px;top:898.03px;font-size:25.8px;letter-spacing:0.95px">$2,329</div><div class="t n" style="left:977.28px;top:898.03px;font-size:25.8px;letter-spacing:0.55px"><span class="m">−</span>9.2<svg class="o" width="20.5" height="18.5" viewBox="0 0 20.5 18.5" fill="none" stroke="#000"><ellipse cx="5.2" cy="4.5" rx="3.0" ry="3.6" stroke-width="1.9"/><ellipse cx="16" cy="14.6" rx="3.0" ry="3.0" stroke-width="1.9"/><path d="M17.6 0.6L4.4 18" stroke-width="1.8"/></svg></div><div class="t n" style="left:-58.72px;top:941.56px;font-size:25.8px;letter-spacing:1.55px">2<svg class="o" width="9.5" height="18.5" viewBox="0 0 9.5 18" preserveAspectRatio="none" style="margin-right:1.00px"><path d="M5.8 0H8.3V18H5.8V2.9L0.6 6.1V3.7Z"/></svg></div><div class="t n" style="left:178.05px;top:941.56px;font-size:25.8px;letter-spacing:0.4px">Ajax</div><div class="t b" style="left:402.73px;top:941.56px;font-size:25.8px;letter-spacing:0.75px"><span class="sx" style="transform:scaleX(1.08)">$2,2<svg class="o" width="10.9" height="18.5" viewBox="0 0 10.9 18" preserveAspectRatio="none" style="margin-right:-0.60px"><path d="M5.3 0H8.9V18H5.3V4L1.0 6.7V3.3Z"/></svg>7</span></div><div class="t n" style="left:546.62px;top:941.56px;font-size:25.8px;letter-spacing:0.95px">$<svg class="o" width="9.5" height="18.5" viewBox="0 0 9.5 18" preserveAspectRatio="none" style="margin-right:0.40px"><path d="M5.8 0H8.3V18H5.8V2.9L0.6 6.1V3.7Z"/></svg>,8<svg class="o" width="9.5" height="18.5" viewBox="0 0 9.5 18" preserveAspectRatio="none" style="margin-right:0.40px"><path d="M5.8 0H8.3V18H5.8V2.9L0.6 6.1V3.7Z"/></svg>2</div><div class="t n" style="left:690.23px;top:941.56px;font-size:25.8px;letter-spacing:0.55px"><span class="m">−</span>7.2<svg class="o" width="20.5" height="18.5" viewBox="0 0 20.5 18.5" fill="none" stroke="#000"><ellipse cx="5.2" cy="4.5" rx="3.0" ry="3.6" stroke-width="1.9"/><ellipse cx="16" cy="14.6" rx="3.0" ry="3.0" stroke-width="1.9"/><path d="M17.6 0.6L4.4 18" stroke-width="1.8"/></svg></div><div class="t n" style="left:834.23px;top:941.56px;font-size:25.8px;letter-spacing:0.95px">$2,25<svg class="o" width="9.5" height="18.5" viewBox="0 0 9.5 18" preserveAspectRatio="none" style="margin-right:0.40px"><path d="M5.8 0H8.3V18H5.8V2.9L0.6 6.1V3.7Z"/></svg></div><div class="t n" style="left:977.28px;top:941.56px;font-size:25.8px;letter-spacing:0.55px"><span class="m">−</span>0.5<svg class="o" width="20.5" height="18.5" viewBox="0 0 20.5 18.5" fill="none" stroke="#000"><ellipse cx="5.2" cy="4.5" rx="3.0" ry="3.6" stroke-width="1.9"/><ellipse cx="16" cy="14.6" rx="3.0" ry="3.0" stroke-width="1.9"/><path d="M17.6 0.6L4.4 18" stroke-width="1.8"/></svg></div><div class="t n" style="left:-58.72px;top:985.09px;font-size:25.8px;letter-spacing:1.55px">22</div><div class="t n" style="left:178.05px;top:985.09px;font-size:25.8px;letter-spacing:0.4px">Guelph</div><div class="t b" style="left:402.73px;top:985.09px;font-size:25.8px;letter-spacing:0.75px"><span class="sx" style="transform:scaleX(1.08)">$2,<svg class="o" width="10.9" height="18.5" viewBox="0 0 10.9 18" preserveAspectRatio="none" style="margin-right:-0.60px"><path d="M5.3 0H8.9V18H5.3V4L1.0 6.7V3.3Z"/></svg>83</span></div><div class="t n" style="left:546.62px;top:985.09px;font-size:25.8px;letter-spacing:0.95px">$<svg class="o" width="9.5" height="18.5" viewBox="0 0 9.5 18" preserveAspectRatio="none" style="margin-right:0.40px"><path d="M5.8 0H8.3V18H5.8V2.9L0.6 6.1V3.7Z"/></svg>,973</div><div class="t n" style="left:690.23px;top:985.09px;font-size:25.8px;letter-spacing:0.55px"><span class="m">−</span>5.4<svg class="o" width="20.5" height="18.5" viewBox="0 0 20.5 18.5" fill="none" stroke="#000"><ellipse cx="5.2" cy="4.5" rx="3.0" ry="3.6" stroke-width="1.9"/><ellipse cx="16" cy="14.6" rx="3.0" ry="3.0" stroke-width="1.9"/><path d="M17.6 0.6L4.4 18" stroke-width="1.8"/></svg></div><div class="t n" style="left:834.23px;top:985.09px;font-size:25.8px;letter-spacing:0.95px">$2,24<svg class="o" width="9.5" height="18.5" viewBox="0 0 9.5 18" preserveAspectRatio="none" style="margin-right:0.40px"><path d="M5.8 0H8.3V18H5.8V2.9L0.6 6.1V3.7Z"/></svg></div><div class="t n" style="left:977.28px;top:985.09px;font-size:25.8px;letter-spacing:0.55px"><span class="m">−</span>8.6<svg class="o" width="20.5" height="18.5" viewBox="0 0 20.5 18.5" fill="none" stroke="#000"><ellipse cx="5.2" cy="4.5" rx="3.0" ry="3.6" stroke-width="1.9"/><ellipse cx="16" cy="14.6" rx="3.0" ry="3.0" stroke-width="1.9"/><path d="M17.6 0.6L4.4 18" stroke-width="1.8"/></svg></div><div class="t n" style="left:-58.72px;top:1028.62px;font-size:25.8px;letter-spacing:1.55px">23</div><div class="t n" style="left:178.05px;top:1028.62px;font-size:25.8px;letter-spacing:0.4px">Barrie</div><div class="t b" style="left:402.73px;top:1028.62px;font-size:25.8px;letter-spacing:0.75px"><span class="sx" style="transform:scaleX(1.08)">$2,<svg class="o" width="10.9" height="18.5" viewBox="0 0 10.9 18" preserveAspectRatio="none" style="margin-right:-0.60px"><path d="M5.3 0H8.9V18H5.3V4L1.0 6.7V3.3Z"/></svg>54</span></div><div class="t n" style="left:546.62px;top:1028.62px;font-size:25.8px;letter-spacing:0.95px">$<svg class="o" width="9.5" height="18.5" viewBox="0 0 9.5 18" preserveAspectRatio="none" style="margin-right:0.40px"><path d="M5.8 0H8.3V18H5.8V2.9L0.6 6.1V3.7Z"/></svg>,926</div><div class="t n" style="left:690.23px;top:1028.62px;font-size:25.8px;letter-spacing:0.55px"><span class="m">−</span>2.2<svg class="o" width="20.5" height="18.5" viewBox="0 0 20.5 18.5" fill="none" stroke="#000"><ellipse cx="5.2" cy="4.5" rx="3.0" ry="3.6" stroke-width="1.9"/><ellipse cx="16" cy="14.6" rx="3.0" ry="3.0" stroke-width="1.9"/><path d="M17.6 0.6L4.4 18" stroke-width="1.8"/></svg></div><div class="t n" style="left:834.23px;top:1028.62px;font-size:25.8px;letter-spacing:0.95px">$2,<svg class="o" width="9.5" height="18.5" viewBox="0 0 9.5 18" preserveAspectRatio="none" style="margin-right:0.40px"><path d="M5.8 0H8.3V18H5.8V2.9L0.6 6.1V3.7Z"/></svg>72</div><div class="t n" style="left:977.28px;top:1028.62px;font-size:25.8px;letter-spacing:0.55px">0.20<svg class="o" width="20.5" height="18.5" viewBox="0 0 20.5 18.5" fill="none" stroke="#000"><ellipse cx="5.2" cy="4.5" rx="3.0" ry="3.6" stroke-width="1.9"/><ellipse cx="16" cy="14.6" rx="3.0" ry="3.0" stroke-width="1.9"/><path d="M17.6 0.6L4.4 18" stroke-width="1.8"/></svg></div><div class="t n" style="left:-58.72px;top:1072.15px;font-size:25.8px;letter-spacing:1.55px">24</div><div class="t n" style="left:178.05px;top:1072.15px;font-size:25.8px;letter-spacing:0.4px">Ottawa</div><div class="t b" style="left:402.73px;top:1072.15px;font-size:25.8px;letter-spacing:0.75px"><span class="sx" style="transform:scaleX(1.08)">$2,<svg class="o" width="10.9" height="18.5" viewBox="0 0 10.9 18" preserveAspectRatio="none" style="margin-right:-0.60px"><path d="M5.3 0H8.9V18H5.3V4L1.0 6.7V3.3Z"/></svg>43</span></div><div class="t n" style="left:546.62px;top:1072.15px;font-size:25.8px;letter-spacing:0.95px">$<svg class="o" width="9.5" height="18.5" viewBox="0 0 9.5 18" preserveAspectRatio="none" style="margin-right:0.40px"><path d="M5.8 0H8.3V18H5.8V2.9L0.6 6.1V3.7Z"/></svg>,960</div><div class="t n" style="left:690.23px;top:1072.15px;font-size:25.8px;letter-spacing:0.55px"><span class="m">−</span>3.5<svg class="o" width="20.5" height="18.5" viewBox="0 0 20.5 18.5" fill="none" stroke="#000"><ellipse cx="5.2" cy="4.5" rx="3.0" ry="3.6" stroke-width="1.9"/><ellipse cx="16" cy="14.6" rx="3.0" ry="3.0" stroke-width="1.9"/><path d="M17.6 0.6L4.4 18" stroke-width="1.8"/></svg></div><div class="t n" style="left:834.23px;top:1072.15px;font-size:25.8px;letter-spacing:0.95px">$2,489</div><div class="t n" style="left:977.28px;top:1072.15px;font-size:25.8px;letter-spacing:0.55px"><span class="m">−</span>2.3<svg class="o" width="20.5" height="18.5" viewBox="0 0 20.5 18.5" fill="none" stroke="#000"><ellipse cx="5.2" cy="4.5" rx="3.0" ry="3.6" stroke-width="1.9"/><ellipse cx="16" cy="14.6" rx="3.0" ry="3.0" stroke-width="1.9"/><path d="M17.6 0.6L4.4 18" stroke-width="1.8"/></svg></div><div class="t n" style="left:-58.72px;top:1115.68px;font-size:25.8px;letter-spacing:1.55px">25</div><div class="t n" style="left:178.05px;top:1115.68px;font-size:25.8px;letter-spacing:0.4px">New Westminster</div><div class="t b" style="left:402.73px;top:1115.68px;font-size:25.8px;letter-spacing:0.75px"><span class="sx" style="transform:scaleX(1.08)">$2,<svg class="o" width="10.9" height="18.5" viewBox="0 0 10.9 18" preserveAspectRatio="none" style="margin-right:-0.60px"><path d="M5.3 0H8.9V18H5.3V4L1.0 6.7V3.3Z"/></svg>3<svg class="o" width="10.9" height="18.5" viewBox="0 0 10.9 18" preserveAspectRatio="none" style="margin-right:-0.60px"><path d="M5.3 0H8.9V18H5.3V4L1.0 6.7V3.3Z"/></svg></span></div><div class="t n" style="left:546.62px;top:1115.68px;font-size:25.8px;letter-spacing:0.95px">$<svg class="o" width="9.5" height="18.5" viewBox="0 0 9.5 18" preserveAspectRatio="none" style="margin-right:0.40px"><path d="M5.8 0H8.3V18H5.8V2.9L0.6 6.1V3.7Z"/></svg>,887</div><div class="t n" style="left:690.23px;top:1115.68px;font-size:25.8px;letter-spacing:0.55px"><span class="m">−</span><svg class="o" width="9.5" height="18.5" viewBox="0 0 9.5 18" preserveAspectRatio="none" style="margin-right:0.00px"><path d="M5.8 0H8.3V18H5.8V2.9L0.6 6.1V3.7Z"/></svg>2.2<svg class="o" width="20.5" height="18.5" viewBox="0 0 20.5 18.5" fill="none" stroke="#000"><ellipse cx="5.2" cy="4.5" rx="3.0" ry="3.6" stroke-width="1.9"/><ellipse cx="16" cy="14.6" rx="3.0" ry="3.0" stroke-width="1.9"/><path d="M17.6 0.6L4.4 18" stroke-width="1.8"/></svg></div><div class="t n" style="left:834.23px;top:1115.68px;font-size:25.8px;letter-spacing:0.95px">$2,650</div><div class="t n" style="left:977.28px;top:1115.68px;font-size:25.8px;letter-spacing:0.55px"><span class="m">−</span>5.<svg class="o" width="9.5" height="18.5" viewBox="0 0 9.5 18" preserveAspectRatio="none" style="margin-right:0.00px"><path d="M5.8 0H8.3V18H5.8V2.9L0.6 6.1V3.7Z"/></svg><svg class="o" width="20.5" height="18.5" viewBox="0 0 20.5 18.5" fill="none" stroke="#000"><ellipse cx="5.2" cy="4.5" rx="3.0" ry="3.6" stroke-width="1.9"/><ellipse cx="16" cy="14.6" rx="3.0" ry="3.0" stroke-width="1.9"/><path d="M17.6 0.6L4.4 18" stroke-width="1.8"/></svg></div><div class="t n" style="left:-58.72px;top:1159.21px;font-size:25.8px;letter-spacing:1.55px">26</div><div class="t n" style="left:178.05px;top:1159.21px;font-size:25.8px;letter-spacing:0.4px">Hamilton</div><div class="t b" style="left:402.73px;top:1159.21px;font-size:25.8px;letter-spacing:0.75px"><span class="sx" style="transform:scaleX(1.08)">$2,<svg class="o" width="10.9" height="18.5" viewBox="0 0 10.9 18" preserveAspectRatio="none" style="margin-right:-0.60px"><path d="M5.3 0H8.9V18H5.3V4L1.0 6.7V3.3Z"/></svg><svg class="o" width="10.9" height="18.5" viewBox="0 0 10.9 18" preserveAspectRatio="none" style="margin-right:-0.60px"><path d="M5.3 0H8.9V18H5.3V4L1.0 6.7V3.3Z"/></svg>5</span></div><div class="t n" style="left:546.62px;top:1159.21px;font-size:25.8px;letter-spacing:0.95px">$<svg class="o" width="9.5" height="18.5" viewBox="0 0 9.5 18" preserveAspectRatio="none" style="margin-right:0.40px"><path d="M5.8 0H8.3V18H5.8V2.9L0.6 6.1V3.7Z"/></svg>,767</div><div class="t n" style="left:690.23px;top:1159.21px;font-size:25.8px;letter-spacing:0.55px">2.70<svg class="o" width="20.5" height="18.5" viewBox="0 0 20.5 18.5" fill="none" stroke="#000"><ellipse cx="5.2" cy="4.5" rx="3.0" ry="3.6" stroke-width="1.9"/><ellipse cx="16" cy="14.6" rx="3.0" ry="3.0" stroke-width="1.9"/><path d="M17.6 0.6L4.4 18" stroke-width="1.8"/></svg></div><div class="t n" style="left:834.23px;top:1159.21px;font-size:25.8px;letter-spacing:0.95px">$2,258</div><div class="t n" style="left:977.28px;top:1159.21px;font-size:25.8px;letter-spacing:0.55px">8.50<svg class="o" width="20.5" height="18.5" viewBox="0 0 20.5 18.5" fill="none" stroke="#000"><ellipse cx="5.2" cy="4.5" rx="3.0" ry="3.6" stroke-width="1.9"/><ellipse cx="16" cy="14.6" rx="3.0" ry="3.0" stroke-width="1.9"/><path d="M17.6 0.6L4.4 18" stroke-width="1.8"/></svg></div><div class="t n" style="left:-58.72px;top:1202.74px;font-size:25.8px;letter-spacing:1.55px">27</div><div class="t n" style="left:178.05px;top:1202.74px;font-size:25.8px;letter-spacing:0.4px">Laval</div><div class="t b" style="left:402.73px;top:1202.74px;font-size:25.8px;letter-spacing:0.75px"><span class="sx" style="transform:scaleX(1.08)">$2,<svg class="o" width="10.9" height="18.5" viewBox="0 0 10.9 18" preserveAspectRatio="none" style="margin-right:-0.60px"><path d="M5.3 0H8.9V18H5.3V4L1.0 6.7V3.3Z"/></svg>05</span></div><div class="t n" style="left:546.62px;top:1202.74px;font-size:25.8px;letter-spacing:0.95px">$<svg class="o" width="9.5" height="18.5" viewBox="0 0 9.5 18" preserveAspectRatio="none" style="margin-right:0.40px"><path d="M5.8 0H8.3V18H5.8V2.9L0.6 6.1V3.7Z"/></svg>,7<svg class="o" width="9.5" height="18.5" viewBox="0 0 9.5 18" preserveAspectRatio="none" style="margin-right:0.40px"><path d="M5.8 0H8.3V18H5.8V2.9L0.6 6.1V3.7Z"/></svg><svg class="o" width="9.5" height="18.5" viewBox="0 0 9.5 18" preserveAspectRatio="none" style="margin-right:0.40px"><path d="M5.8 0H8.3V18H5.8V2.9L0.6 6.1V3.7Z"/></svg></div><div class="t n" style="left:690.23px;top:1202.74px;font-size:25.8px;letter-spacing:0.55px"><svg class="o" width="9.5" height="18.5" viewBox="0 0 9.5 18" preserveAspectRatio="none" style="margin-right:0.00px"><path d="M5.8 0H8.3V18H5.8V2.9L0.6 6.1V3.7Z"/></svg>.90<svg class="o" width="20.5" height="18.5" viewBox="0 0 20.5 18.5" fill="none" stroke="#000"><ellipse cx="5.2" cy="4.5" rx="3.0" ry="3.6" stroke-width="1.9"/><ellipse cx="16" cy="14.6" rx="3.0" ry="3.0" stroke-width="1.9"/><path d="M17.6 0.6L4.4 18" stroke-width="1.8"/></svg></div><div class="t n" style="left:834.23px;top:1202.74px;font-size:25.8px;letter-spacing:0.95px">$2,343</div><div class="t n" style="left:977.28px;top:1202.74px;font-size:25.8px;letter-spacing:0.55px">8.70<svg class="o" width="20.5" height="18.5" viewBox="0 0 20.5 18.5" fill="none" stroke="#000"><ellipse cx="5.2" cy="4.5" rx="3.0" ry="3.6" stroke-width="1.9"/><ellipse cx="16" cy="14.6" rx="3.0" ry="3.0" stroke-width="1.9"/><path d="M17.6 0.6L4.4 18" stroke-width="1.8"/></svg></div><div class="t n" style="left:-58.72px;top:1246.27px;font-size:25.8px;letter-spacing:1.55px">28</div><div class="t n" style="left:178.05px;top:1246.27px;font-size:25.8px;letter-spacing:0.4px">Surrey</div><div class="t b" style="left:402.73px;top:1246.27px;font-size:25.8px;letter-spacing:0.75px"><span class="sx" style="transform:scaleX(1.08)">$2,090</span></div><div class="t n" style="left:546.62px;top:1246.27px;font-size:25.8px;letter-spacing:0.95px">$<svg class="o" width="9.5" height="18.5" viewBox="0 0 9.5 18" preserveAspectRatio="none" style="margin-right:0.40px"><path d="M5.8 0H8.3V18H5.8V2.9L0.6 6.1V3.7Z"/></svg>,80<svg class="o" width="9.5" height="18.5" viewBox="0 0 9.5 18" preserveAspectRatio="none" style="margin-right:0.40px"><path d="M5.8 0H8.3V18H5.8V2.9L0.6 6.1V3.7Z"/></svg></div><div class="t n" style="left:690.23px;top:1246.27px;font-size:25.8px;letter-spacing:0.55px"><span class="m">−</span>5.7<svg class="o" width="20.5" height="18.5" viewBox="0 0 20.5 18.5" fill="none" stroke="#000"><ellipse cx="5.2" cy="4.5" rx="3.0" ry="3.6" stroke-width="1.9"/><ellipse cx="16" cy="14.6" rx="3.0" ry="3.0" stroke-width="1.9"/><path d="M17.6 0.6L4.4 18" stroke-width="1.8"/></svg></div><div class="t n" style="left:834.23px;top:1246.27px;font-size:25.8px;letter-spacing:0.95px">$2,236</div><div class="t n" style="left:977.28px;top:1246.27px;font-size:25.8px;letter-spacing:0.55px"><span class="m">−</span>7.4<svg class="o" width="20.5" height="18.5" viewBox="0 0 20.5 18.5" fill="none" stroke="#000"><ellipse cx="5.2" cy="4.5" rx="3.0" ry="3.6" stroke-width="1.9"/><ellipse cx="16" cy="14.6" rx="3.0" ry="3.0" stroke-width="1.9"/><path d="M17.6 0.6L4.4 18" stroke-width="1.8"/></svg></div><div class="t n" style="left:-58.72px;top:1288.26px;font-size:25.8px;letter-spacing:1.55px">29</div><div class="t n" style="left:178.05px;top:1288.26px;font-size:25.8px;letter-spacing:0.4px">Greater Sudbury</div><div class="t b" style="left:402.73px;top:1288.26px;font-size:25.8px;letter-spacing:0.75px"><span class="sx" style="transform:scaleX(1.08)">$2,080</span></div><div class="t n" style="left:546.62px;top:1288.26px;font-size:25.8px;letter-spacing:0.95px">$<svg class="o" width="9.5" height="18.5" viewBox="0 0 9.5 18" preserveAspectRatio="none" style="margin-right:0.40px"><path d="M5.8 0H8.3V18H5.8V2.9L0.6 6.1V3.7Z"/></svg>,897</div><div class="t n" style="left:690.23px;top:1288.26px;font-size:25.8px;letter-spacing:0.55px"><span class="m">−</span>5.3<svg class="o" width="20.5" height="18.5" viewBox="0 0 20.5 18.5" fill="none" stroke="#000"><ellipse cx="5.2" cy="4.5" rx="3.0" ry="3.6" stroke-width="1.9"/><ellipse cx="16" cy="14.6" rx="3.0" ry="3.0" stroke-width="1.9"/><path d="M17.6 0.6L4.4 18" stroke-width="1.8"/></svg></div><div class="t n" style="left:834.23px;top:1288.26px;font-size:25.8px;letter-spacing:0.95px">$2,<svg class="o" width="9.5" height="18.5" viewBox="0 0 9.5 18" preserveAspectRatio="none" style="margin-right:0.40px"><path d="M5.8 0H8.3V18H5.8V2.9L0.6 6.1V3.7Z"/></svg>45</div><div class="t n" style="left:977.28px;top:1288.26px;font-size:25.8px;letter-spacing:0.55px"><span class="m">−</span>5.8<svg class="o" width="20.5" height="18.5" viewBox="0 0 20.5 18.5" fill="none" stroke="#000"><ellipse cx="5.2" cy="4.5" rx="3.0" ry="3.6" stroke-width="1.9"/><ellipse cx="16" cy="14.6" rx="3.0" ry="3.0" stroke-width="1.9"/><path d="M17.6 0.6L4.4 18" stroke-width="1.8"/></svg></div><div class="t b" style="left:-58.97px;top:1329.66px;font-size:25.8px;letter-spacing:1.05px"><span class="sx" style="transform:scaleX(1.08)">30</span></div><div class="t b" style="left:177.93px;top:1329.66px;font-size:25.8px;letter-spacing:0.15px">Nanaimo</div><div class="t b" style="left:402.73px;top:1329.66px;font-size:25.8px;letter-spacing:0.75px"><span class="sx" style="transform:scaleX(1.08)">$2,057</span></div><div class="t b" style="left:546.52px;top:1329.66px;font-size:25.8px;letter-spacing:0.75px"><span class="sx" style="transform:scaleX(1.08)">$<svg class="o" width="10.9" height="18.5" viewBox="0 0 10.9 18" preserveAspectRatio="none" style="margin-right:-0.60px"><path d="M5.3 0H8.9V18H5.3V4L1.0 6.7V3.3Z"/></svg>,8<svg class="o" width="10.9" height="18.5" viewBox="0 0 10.9 18" preserveAspectRatio="none" style="margin-right:-0.60px"><path d="M5.3 0H8.9V18H5.3V4L1.0 6.7V3.3Z"/></svg>2</span></div><div class="t b" style="left:690.12px;top:1329.66px;font-size:25.8px;letter-spacing:0.3500000000000001px"><span class="sx" style="transform:scaleX(1.08)"><svg class="o" width="10.9" height="18.5" viewBox="0 0 10.9 18" preserveAspectRatio="none" style="margin-right:-1.00px"><path d="M5.3 0H8.9V18H5.3V4L1.0 6.7V3.3Z"/></svg>.00<svg class="o" width="20" height="18.5" viewBox="0 0 20 18.5" fill="none" stroke="#000" style="margin-left:-1px;margin-right:1px"><ellipse cx="3.85" cy="4.4" rx="2.7" ry="3.2" stroke-width="2.6"/><ellipse cx="15.9" cy="14.2" rx="2.65" ry="3.0" stroke-width="2.6"/><path d="M16.0 0.4L3.6 18.1" stroke-width="2.4"/></svg></span></div><div class="t b" style="left:834.12px;top:1329.66px;font-size:25.8px;letter-spacing:0.75px"><span class="sx" style="transform:scaleX(1.08)">$2,324</span></div><div class="t b" style="left:977.17px;top:1329.66px;font-size:25.8px;letter-spacing:0.3500000000000001px"><span class="sx" style="transform:scaleX(1.08)">7.20<svg class="o" width="20" height="18.5" viewBox="0 0 20 18.5" fill="none" stroke="#000" style="margin-left:-1px;margin-right:1px"><ellipse cx="3.85" cy="4.4" rx="2.7" ry="3.2" stroke-width="2.6"/><ellipse cx="15.9" cy="14.2" rx="2.65" ry="3.0" stroke-width="2.6"/><path d="M16.0 0.4L3.6 18.1" stroke-width="2.4"/></svg></span></div>
<svg width="1200" height="1353" viewBox="0 0 1200 1353" shape-rendering="geometricPrecision" fill="#000"><rect x="0.00" y="0.00" width="4.20" height="1353.00"/><rect x="0.00" y="0.00" width="1200.00" height="4.20"/><rect x="1197.00" y="0.00" width="3.00" height="1353.00"/><rect x="0.00" y="1349.80" width="1200.00" height="3.20"/><rect x="0.00" y="43.70" width="1200.00" height="4.10"/><rect x="0.00" y="89.27" width="1200.00" height="2.20"/><rect x="0.00" y="132.80" width="1200.00" height="2.20"/><rect x="0.00" y="176.33" width="1200.00" height="2.20"/><rect x="0.00" y="219.86" width="1200.00" height="2.20"/><rect x="0.00" y="263.39" width="1200.00" height="2.20"/><rect x="0.00" y="306.92" width="1200.00" height="2.20"/><rect x="0.00" y="350.45" width="1200.00" height="2.20"/><rect x="0.00" y="393.98" width="1200.00" height="2.20"/><rect x="0.00" y="437.51" width="1200.00" height="2.20"/><rect x="0.00" y="481.04" width="1200.00" height="2.20"/><rect x="0.00" y="524.57" width="1200.00" height="2.20"/><rect x="0.00" y="568.10" width="1200.00" height="2.20"/><rect x="0.00" y="611.63" width="1200.00" height="2.20"/><rect x="0.00" y="655.16" width="1200.00" height="2.20"/><rect x="0.00" y="698.69" width="1200.00" height="2.20"/><rect x="0.00" y="742.22" width="1200.00" height="2.20"/><rect x="0.00" y="785.75" width="1200.00" height="2.20"/><rect x="0.00" y="829.28" width="1200.00" height="2.20"/><rect x="0.00" y="872.81" width="1200.00" height="2.20"/><rect x="0.00" y="916.34" width="1200.00" height="2.20"/><rect x="0.00" y="959.87" width="1200.00" height="2.20"/><rect x="0.00" y="1003.40" width="1200.00" height="2.20"/><rect x="0.00" y="1046.93" width="1200.00" height="2.20"/><rect x="0.00" y="1090.46" width="1200.00" height="2.20"/><rect x="0.00" y="1133.99" width="1200.00" height="2.20"/><rect x="0.00" y="1177.52" width="1200.00" height="2.20"/><rect x="0.00" y="1221.05" width="1200.00" height="2.20"/><rect x="0.00" y="1264.58" width="1200.00" height="2.20"/><rect x="0.00" y="1306.00" width="1200.00" height="4.20"/><rect x="172.60" y="0.00" width="4.20" height="47.80"/><rect x="174.60" y="47.80" width="2.20" height="1258.20"/><rect x="172.60" y="1306.00" width="4.20" height="47.00"/><rect x="477.50" y="0.00" width="4.20" height="47.80"/><rect x="479.50" y="47.80" width="2.20" height="1258.20"/><rect x="477.50" y="1306.00" width="4.20" height="47.00"/><rect x="621.30" y="0.00" width="4.20" height="47.80"/><rect x="623.30" y="47.80" width="2.20" height="1258.20"/><rect x="621.30" y="1306.00" width="4.20" height="47.00"/><rect x="765.00" y="0.00" width="4.20" height="47.80"/><rect x="767.00" y="47.80" width="2.20" height="1258.20"/><rect x="765.00" y="1306.00" width="4.20" height="47.00"/><rect x="909.00" y="0.00" width="4.20" height="47.80"/><rect x="911.00" y="47.80" width="2.20" height="1258.20"/><rect x="909.00" y="1306.00" width="4.20" height="47.00"/><rect x="1052.80" y="0.00" width="4.20" height="47.80"/><rect x="1054.80" y="47.80" width="2.20" height="1258.20"/><rect x="1052.80" y="1306.00" width="4.20" height="47.00"/></svg>
</body></html>
